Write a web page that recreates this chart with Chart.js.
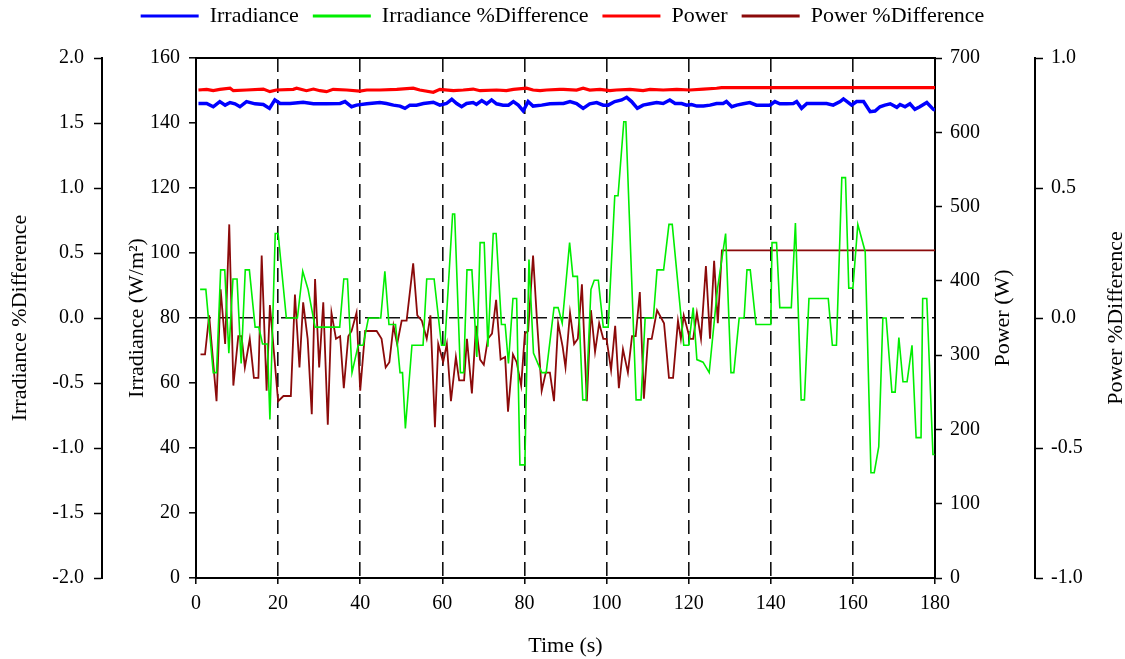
<!DOCTYPE html>
<html>
<head>
<meta charset="utf-8">
<title>Irradiance and power</title>
<script src="https://cdn.jsdelivr.net/npm/chart.js@4.4.1/dist/chart.umd.min.js"></script>
<style>
  html, body { margin: 0; padding: 0; background: #fff; }
  #wrap { width: 1125px; height: 659px; }
</style>
</head>
<body>
<div id="wrap"><canvas id="chart" width="1125" height="659"></canvas></div>
<script>
// axis ticks
const timeTicks = [0, 20, 40, 60, 80, 100, 120, 140, 160, 180];
const irrTicks = [0, 20, 40, 60, 80, 100, 120, 140, 160];
const powTicks = [0, 100, 200, 300, 400, 500, 600, 700];
const irrDiffTicks = [-2, -1.5, -1, -0.5, 0, 0.5, 1, 1.5, 2];
const powDiffTicks = [-1, -0.5, 0, 0.5, 1];

// irradiance (W/m2)
const irrTime = [0.6, 2.6, 4.2, 5.8, 7.1, 8.3, 9.5, 10.7, 12.3, 14.4,
  16.4, 17.9, 19.2, 20.5, 22.9, 26.1, 28.6, 31.8, 35.1, 36.3,
  37.9, 39.1, 41.6, 44.8, 46.4, 48.1, 49.7, 50.9, 52.1, 53.7,
  55.4, 57.8, 59.4, 61.0, 62.3, 63.5, 64.7, 65.9, 67.5, 68.3,
  69.6, 70.8, 72.0, 73.2, 74.8, 76.1, 77.3, 78.5, 79.7, 80.9,
  82.1, 84.2, 86.2, 88.6, 89.5, 91.1, 92.7, 94.3, 95.9, 97.6,
  99.2, 100.4, 102.0, 103.7, 104.9, 106.1, 107.5, 108.9, 110.6, 112.2,
  113.8, 115.4, 116.7, 118.3, 119.5, 120.7, 122.0, 123.6, 125.2, 126.8,
  128.4, 129.2, 130.5, 131.7, 133.3, 134.9, 136.5, 138.2, 139.8, 141.0,
  142.2, 143.9, 145.5, 146.3, 147.5, 148.8, 151.2, 153.6, 155.2, 156.9,
  157.7, 158.9, 159.7, 160.9, 162.6, 164.2, 165.4, 166.6, 167.8, 169.1,
  170.7, 171.5, 172.7, 173.9, 175.1, 176.3, 178.0, 179.6, 180];
const irrValue = [146.0, 146.0, 145.0, 146.6, 145.5, 146.3, 145.9, 145.0, 146.6, 145.9,
  145.7, 144.5, 147.1, 146.0, 146.0, 146.4, 145.9, 145.9, 146.0, 146.6,
  145.0, 145.5, 145.9, 146.3, 146.0, 145.5, 145.2, 144.5, 145.5, 145.5,
  146.0, 146.4, 145.5, 146.0, 147.3, 146.0, 145.0, 146.0, 146.3, 145.7,
  146.9, 145.9, 147.1, 145.9, 145.5, 145.5, 146.6, 145.5, 143.7, 146.6,
  145.2, 145.5, 145.9, 146.0, 146.0, 146.6, 146.0, 144.5, 145.9, 146.3,
  145.5, 145.5, 146.6, 147.1, 147.9, 146.6, 144.5, 145.5, 145.9, 146.3,
  146.0, 147.1, 146.0, 146.0, 145.5, 145.7, 145.2, 145.2, 145.5, 146.0,
  146.0, 146.6, 145.0, 145.5, 145.9, 146.3, 145.5, 145.5, 145.5, 146.6,
  145.9, 145.9, 146.0, 146.6, 144.5, 146.0, 146.0, 146.0, 145.5, 146.6,
  147.4, 146.3, 145.5, 146.6, 146.6, 143.5, 143.7, 145.0, 145.5, 145.9,
  144.8, 145.7, 145.0, 145.9, 144.2, 145.0, 146.3, 144.2, 144.0];

// irradiance %difference
const irrDiffTime = [1.0, 2.4, 4.2, 5.0, 6.0, 7.0, 8.0, 9.0, 10.0, 11.0,
  12.0, 13.0, 14.4, 15.3, 16.2, 17.4, 18.0, 19.3, 20.0, 22.0,
  24.7, 26.0, 27.3, 29.0, 35.0, 36.0, 36.9, 38.0, 39.5, 40.7,
  42.0, 45.0, 46.0, 47.0, 48.6, 49.7, 50.3, 51.0, 52.6, 55.3,
  56.2, 58.0, 59.8, 60.6, 62.5, 63.0, 64.4, 65.2, 66.0, 67.2,
  68.4, 69.2, 70.2, 71.1, 72.4, 73.1, 74.4, 75.3, 76.1, 77.2,
  78.1, 78.9, 80.1, 81.1, 82.2, 84.2, 85.3, 87.2, 88.2, 89.2,
  91.0, 91.8, 92.9, 94.2, 95.0, 96.2, 97.0, 98.0, 99.2, 100.4,
  102.0, 102.8, 104.2, 104.7, 107.2, 108.4, 109.4, 111.4, 112.3, 113.9,
  115.2, 116.0, 118.8, 120.0, 121.1, 122.0, 123.5, 125.0, 127.0, 129.0,
  130.3, 131.0, 132.3, 133.5, 134.2, 135.0, 136.4, 140.0, 140.3, 141.4,
  142.2, 145.0, 146.0, 147.4, 148.2, 149.3, 154.0, 155.0, 156.0, 157.3,
  158.2, 159.0, 160.0, 161.2, 163.0, 164.4, 165.2, 166.3, 167.3, 168.1,
  169.5, 170.3, 171.2, 172.2, 173.2, 174.4, 175.4, 176.6, 177.0, 178.0,
  179.5, 179.9];
const irrDiffValue = [0.22, 0.22, -0.42, -0.42, 0.37, 0.37, -0.27, 0.30, 0.30, -0.35,
  0.37, 0.37, -0.07, -0.07, -0.20, -0.20, -0.78, 0.65, 0.65, 0.0,
  0.0, 0.36, 0.22, -0.07, -0.07, 0.30, 0.30, -0.42, -0.21, -0.21,
  0.0, 0.0, 0.36, -0.05, -0.05, -0.42, -0.42, -0.85, -0.21, -0.21,
  0.30, 0.30, -0.21, -0.21, 0.80, 0.80, -0.42, -0.42, 0.37, 0.37,
  -0.30, 0.58, 0.58, -0.22, 0.65, 0.65, -0.05, -0.05, -0.35, 0.15,
  0.15, -1.13, -1.13, 0.45, -0.27, -0.42, -0.42, 0.08, 0.08, -0.04,
  0.58, 0.32, 0.32, -0.63, -0.63, 0.22, 0.29, 0.29, -0.07, -0.07,
  0.94, 0.94, 1.51, 1.51, -0.63, -0.63, 0.0, 0.0, 0.37, 0.37,
  0.72, 0.72, -0.21, -0.21, 0.08, -0.32, -0.34, -0.42, 0.22, 0.65,
  -0.42, -0.42, 0.0, 0.0, 0.37, 0.37, -0.05, -0.05, 0.58, 0.58,
  0.08, 0.08, 0.73, -0.63, -0.63, 0.15, 0.15, -0.21, -0.21, 1.08,
  1.08, 0.23, 0.23, 0.72, 0.51, -1.19, -1.19, -0.99, 0.0, 0.0,
  -0.57, -0.57, -0.15, -0.49, -0.49, -0.21, -0.92, -0.92, 0.15, 0.15,
  -1.05, -1.05];

// power (W)
const powTime = [0.6, 2.6, 4.2, 5.8, 8.3, 9.1, 12.3, 16.4, 18.0, 19.6,
  23.7, 24.5, 26.9, 28.6, 30.2, 31.8, 33.4, 36.7, 39.9, 41.6,
  44.8, 48.9, 52.9, 54.5, 57.8, 59.4, 62.7, 65.1, 67.5, 69.2,
  73.2, 75.6, 77.3, 80.5, 82.1, 83.8, 85.4, 88.6, 89.5, 92.7,
  94.3, 95.9, 98.4, 100.8, 102.4, 105.7, 108.9, 110.6, 113.8, 117.1,
  120.3, 123.6, 126.8, 128.0, 180];
const powValue = [656.9, 657.8, 656.0, 657.8, 659.3, 656.0, 656.9, 658.2, 654.7, 656.9,
  657.8, 659.3, 656.0, 658.2, 656.0, 654.7, 657.8, 656.9, 655.5, 656.9,
  656.9, 657.8, 659.3, 656.9, 653.8, 657.8, 656.0, 656.9, 658.2, 656.0,
  656.9, 656.0, 657.8, 659.3, 656.9, 656.0, 656.9, 657.8, 657.8, 656.9,
  659.3, 656.9, 657.8, 656.0, 656.9, 657.8, 656.0, 657.8, 656.9, 657.8,
  656.9, 658.2, 659.3, 660.0, 660.0];

// power %difference
const powDiffTime = [1.1, 2.2, 3.2, 5.0, 6.0, 7.1, 8.1, 9.1, 10.3, 11.1,
  11.9, 13.1, 14.1, 15.2, 16.0, 17.2, 18.0, 20.0, 21.3, 23.1,
  24.1, 25.2, 26.1, 27.2, 28.2, 29.0, 30.0, 31.0, 32.1, 33.0,
  34.1, 35.1, 36.0, 37.1, 37.9, 39.1, 40.0, 41.2, 42.4, 44.0,
  45.2, 46.2, 47.1, 48.1, 49.0, 50.1, 51.3, 52.9, 53.9, 55.0,
  56.2, 57.1, 58.2, 59.0, 60.2, 61.1, 62.1, 63.3, 64.1, 65.3,
  66.0, 67.2, 68.2, 69.2, 70.1, 71.1, 72.1, 73.1, 74.2, 75.3,
  76.0, 77.2, 78.1, 79.2, 80.1, 80.9, 82.1, 83.1, 84.2, 85.2,
  86.2, 87.2, 88.2, 89.3, 90.0, 91.1, 92.1, 93.0, 94.0, 95.2,
  96.2, 97.2, 98.2, 99.2, 100.0, 101.1, 102.1, 103.0, 104.0, 105.2,
  106.2, 107.1, 108.1, 109.1, 110.1, 111.0, 112.3, 114.0, 115.2, 116.2,
  117.4, 118.1, 118.8, 119.8, 120.3, 121.1, 122.0, 123.0, 124.2, 125.2,
  126.2, 127.1, 128.1, 180];
const powDiffValue = [-0.14, -0.14, 0.01, -0.32, 0.11, -0.10, 0.36, -0.26, -0.07, -0.07,
  -0.19, -0.08, -0.23, -0.23, 0.24, -0.28, 0.05, -0.32, -0.30, -0.30,
  0.09, -0.19, 0.06, -0.08, -0.37, 0.15, -0.19, 0.06, -0.41, 0.02,
  -0.08, -0.07, -0.27, -0.07, -0.05, 0.02, -0.28, -0.05, -0.05, -0.05,
  -0.08, -0.19, -0.17, -0.03, -0.10, -0.01, -0.01, 0.21, 0.01, -0.01,
  -0.08, 0.01, -0.42, -0.10, -0.17, -0.10, -0.32, -0.15, -0.24, -0.24,
  -0.08, -0.29, -0.03, -0.16, -0.18, -0.08, -0.06, 0.07, -0.16, -0.15,
  -0.36, -0.14, -0.17, -0.26, -0.06, -0.05, 0.24, -0.02, -0.28, -0.21,
  -0.21, -0.32, -0.02, -0.11, -0.19, 0.02, -0.10, -0.08, 0.13, -0.32,
  0.03, -0.13, -0.02, -0.08, -0.08, -0.20, -0.03, -0.27, -0.12, -0.21,
  -0.07, -0.07, 0.10, -0.31, -0.08, -0.08, 0.03, -0.02, -0.23, -0.23,
  -0.01, -0.08, 0.01, -0.05, -0.08, -0.08, 0.02, -0.08, 0.20, -0.08,
  0.22, -0.02, 0.26, 0.26];

const FONT = "'Liberation Serif', 'Times New Roman', serif";
const BLACK = "#000";
const DASH = [14, 7];

Chart.defaults.font.family = FONT;
Chart.defaults.color = BLACK;

const pts = (xs, ys) => xs.map((x, i) => ({ x, y: ys[i] }));
const useTicks = list => scale => { scale.ticks = list.map(v => ({ value: v })); };
const oneDecimal = v => Number(v).toFixed(1);

const tickFont = { size: 20 };
const titleFont = { size: 22 };

// right-hand titles read bottom-to-top like the left ones
const rightTitles = {
  id: "rightTitles",
  afterDraw(chart) {
    const { ctx, chartArea } = chart;
    const cy = (chartArea.top + chartArea.bottom) / 2;
    [["yPow", 32], ["yPowDiff", 9]].forEach(([id, inset]) => {
      const scale = chart.scales[id];
      ctx.save();
      ctx.translate(scale.right - inset, cy);
      ctx.rotate(-Math.PI / 2);
      ctx.font = titleFont.size + "px " + FONT;
      ctx.fillStyle = BLACK;
      ctx.textAlign = "center";
      ctx.textBaseline = "middle";
      ctx.fillText(scale.options.title.text, 0, 0);
      ctx.restore();
    });
  },
};

new Chart(document.getElementById("chart").getContext("2d"), {
  type: "line",
  data: {
    datasets: [
      { label: "Irradiance", data: pts(irrTime, irrValue), yAxisID: "yIrr",
        borderColor: "#0000ff", backgroundColor: "#0000ff", borderWidth: 3.5 },
      { label: "Irradiance %Difference", data: pts(irrDiffTime, irrDiffValue), yAxisID: "yIrrDiff",
        borderColor: "#00ee00", backgroundColor: "#00ee00", borderWidth: 1.6 },
      { label: "Power", data: pts(powTime, powValue), yAxisID: "yPow",
        borderColor: "#ff0000", backgroundColor: "#ff0000", borderWidth: 3.2 },
      { label: "Power %Difference", data: pts(powDiffTime, powDiffValue), yAxisID: "yPowDiff",
        borderColor: "#8b0a0a", backgroundColor: "#8b0a0a", borderWidth: 1.8 },
    ],
  },
  options: {
    responsive: false,
    animation: false,
    events: [],
    elements: { point: { radius: 0 }, line: { tension: 0 } },
    layout: { padding: { top: -9, left: 0, right: 0, bottom: 0 } },
    plugins: {
      tooltip: { enabled: false },
      legend: {
        position: "top",
        labels: {
          boxWidth: 58,
          boxHeight: 3,
          padding: 14,
          font: { size: 22 },
          color: BLACK,
          generateLabels: chart =>
            Chart.defaults.plugins.legend.labels.generateLabels(chart)
              .map(item => ({ ...item, fillStyle: item.strokeStyle, lineWidth: 0 })),
        },
      },
    },
    scales: {
      x: {
        type: "linear", position: "bottom", min: 0, max: 180,
        afterBuildTicks: useTicks(timeTicks),
        afterFit: s => { s.height = 81; },
        grid: {
          color: c => (c.tick && c.tick.value > 0 && c.tick.value < 180) ? "#111" : "rgba(0,0,0,0)",
          lineWidth: 1.6, tickColor: BLACK, tickLength: 6, tickWidth: 1.5,
        },
        border: { color: BLACK, width: 2, dash: DASH },
        ticks: { padding: 8, font: tickFont, maxRotation: 0, autoSkip: false },
        title: { display: true, text: "Time (s)", font: titleFont, padding: { top: 0, bottom: 0 } },
      },
      xTop: {
        type: "linear", position: "top", min: 0, max: 180,
        afterFit: s => { s.height = 21; },
        grid: { display: false },
        ticks: { display: false },
        border: { color: BLACK, width: 2 },
      },
      yIrr: {
        type: "linear", position: "left", weight: 0, min: 0, max: 160,
        afterBuildTicks: useTicks(irrTicks),
        afterFit: s => { s.width = 94; },
        grid: {
          color: c => (c.tick && c.tick.value === 80) ? "#111" : "rgba(0,0,0,0)",
          lineWidth: 1.6, tickColor: BLACK, tickLength: 7, tickWidth: 1.5,
        },
        border: { color: BLACK, width: 2, dash: DASH },
        ticks: { padding: 9, font: tickFont },
        title: { display: true, text: "Irradiance (W/m²)", font: titleFont, padding: { top: 22, bottom: 0 } },
      },
      yIrrDiff: {
        type: "linear", position: "left", weight: 1, min: -2, max: 2,
        afterBuildTicks: useTicks(irrDiffTicks),
        afterFit: s => { s.width = 102; },
        grid: { drawOnChartArea: false, tickColor: BLACK, tickLength: 8, tickWidth: 1.5 },
        border: { color: BLACK, width: 2 },
        ticks: { padding: 10, font: tickFont, callback: oneDecimal },
        title: { display: true, text: "Irradiance %Difference", font: titleFont, padding: { top: 7, bottom: 0 } },
      },
      yPow: {
        type: "linear", position: "right", weight: 0, min: 0, max: 700,
        afterBuildTicks: useTicks(powTicks),
        afterFit: s => { s.width = 100; },
        grid: { drawOnChartArea: false, tickColor: BLACK, tickLength: 7, tickWidth: 1.5 },
        border: { color: BLACK, width: 2 },
        ticks: { padding: 8, font: tickFont },
        title: { display: false, text: "Power (W)" },
      },
      yPowDiff: {
        type: "linear", position: "right", weight: 1, min: -1, max: 1,
        afterBuildTicks: useTicks(powDiffTicks),
        afterFit: s => { s.width = 90; },
        grid: { drawOnChartArea: false, tickColor: BLACK, tickLength: 8, tickWidth: 1.5 },
        border: { color: BLACK, width: 2 },
        ticks: { padding: 8, font: tickFont, callback: oneDecimal },
        title: { display: false, text: "Power %Difference" },
      },
    },
  },
  plugins: [rightTitles],
});
</script>
</body>
</html>
